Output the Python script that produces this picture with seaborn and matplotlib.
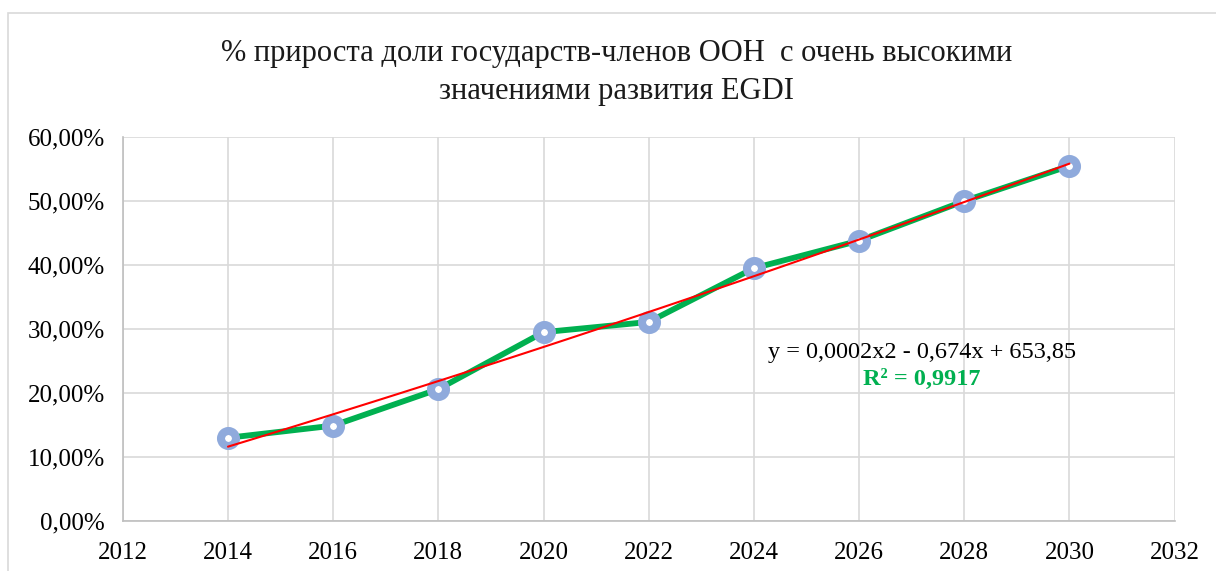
import matplotlib
matplotlib.use("Agg")
import matplotlib.pyplot as plt
import seaborn as sns
import pandas as pd
from matplotlib.patches import Rectangle

years = [2014, 2016, 2018, 2020, 2022, 2024, 2026, 2028, 2030]
share = [0.130, 0.149, 0.206, 0.295, 0.311, 0.395, 0.438, 0.500, 0.555]
x_ticks = list(range(2012, 2033, 2))
y_ticks = [0.0, 0.1, 0.2, 0.3, 0.4, 0.5, 0.6]
title = "% прироста доли государств-членов ООН  с очень высокими\nзначениями развития EGDI"
equation = "y = 0,0002x2 - 0,674x + 653,85"
r2_text = "R² = 0,9917"

df = pd.DataFrame({"year": years, "share": share})

sns.set_theme(style="white")
plt.rcParams["font.family"] = ["Liberation Serif", "DejaVu Serif"]

fig = plt.figure(figsize=(12.16, 5.71), dpi=100)
ax = fig.add_axes([0.101, 0.0876, 0.865, 0.6725])

fig.patches.append(Rectangle((8 / 1216, -0.02), 1.0, 1 - 13 / 571 + 0.02,
                             transform=fig.transFigure, fill=False,
                             edgecolor="#d9d9d9", linewidth=1.2))

sns.lineplot(data=df, x="year", y="share", ax=ax, color="#00b050", linewidth=4.2,
             marker="o", markersize=10.8, markerfacecolor="white",
             markeredgecolor="#8faadc", markeredgewidth=5.8, zorder=3)
sns.regplot(data=df, x="year", y="share", ax=ax, order=2, ci=None, scatter=False,
            line_kws={"color": "#ff0000", "linewidth": 1.5, "zorder": 4})

ax.set_xlim(2012, 2032)
ax.set_ylim(0, 0.6)
ax.set_xticks(x_ticks)
ax.set_xticklabels([str(t) for t in x_ticks])
ax.set_yticks(y_ticks)
ax.set_yticklabels([f"{v*100:.2f}%".replace(".", ",") for v in y_ticks])
ax.tick_params(axis="both", labelsize=18, colors="#000000", length=0)
ax.tick_params(axis="x", pad=15)
ax.tick_params(axis="y", pad=13)
ax.set_xlabel("")
ax.set_ylabel("")
ax.grid(True, color="#d9d9d9", linewidth=1.2)
for s in ["top", "right"]:
    ax.spines[s].set_visible(False)
for s in ["left", "bottom"]:
    ax.spines[s].set_color("#bfbfbf")
    ax.spines[s].set_linewidth(1.2)

fig.text(0.507, 0.873, title, ha="center", va="center", fontsize=22,
         linespacing=1.4, color="#1a1a1a")

ax.text(2027.2, 0.2625, equation, ha="center", va="center", fontsize=17.5, color="black")
ax.text(2027.2, 0.2205, r2_text, ha="center", va="center", fontsize=17.5,
        color="#00b050", fontweight="bold")

fig.savefig("out.png", dpi=100)
